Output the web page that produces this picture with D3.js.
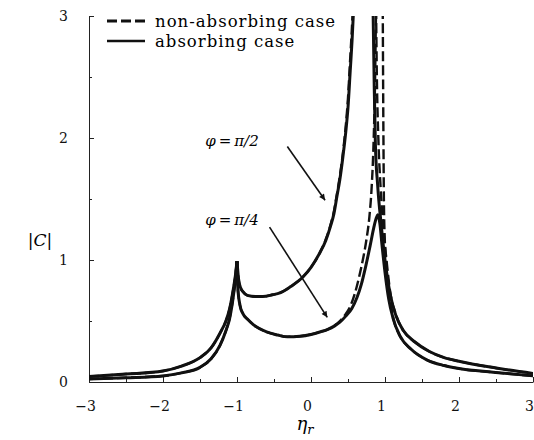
<!DOCTYPE html>
<html>
<head>
<meta charset="utf-8">
<script src="https://cdn.jsdelivr.net/npm/d3@7"></script>
<style>
  body { margin: 0; background: #fff; }
  svg { display: block; }
</style>
</head>
<body>
<svg id="chart" width="534" height="440"></svg>
<script>
// axis ticks
const etaTicks = [-3, -2, -1, 0, 1, 2, 3];
const etaMinor = [-2.5, -1.5, -0.5, 0.5, 1.5, 2.5];
const cTicks = [0, 1, 2, 3];
const cMinor = [0.5, 1.5, 2.5];

// |C|, [eta_r, |C|], split at the cusp (eta=-1) and the poles
const leftHalfPi = [[-3, 0.045], [-2.5, 0.065], [-2, 0.09], [-1.75, 0.13], [-1.5, 0.2], [-1.35, 0.28],
  [-1.23, 0.4], [-1.15, 0.5], [-1.1, 0.6], [-1.05, 0.76], [-1.02, 0.88], [-1, 0.99]];
const leftQuarterPi = [[-3, 0.025], [-2.5, 0.035], [-2, 0.05], [-1.75, 0.075], [-1.5, 0.12], [-1.35, 0.19],
  [-1.23, 0.3], [-1.15, 0.42], [-1.1, 0.52], [-1.05, 0.7], [-1.02, 0.85], [-1, 0.99]];

// phi = pi/2, absorbing
const halfPiAbs = [
  leftHalfPi,
  [[-1, 0.99], [-0.98, 0.85], [-0.95, 0.77], [-0.92, 0.74], [-0.86, 0.71], [-0.75, 0.7], [-0.65, 0.7],
   [-0.52, 0.715], [-0.42, 0.73], [-0.28, 0.78], [-0.11, 0.86], [0, 0.94], [0.12, 1.06], [0.2, 1.16],
   [0.26, 1.27], [0.31, 1.38], [0.35, 1.52], [0.39, 1.66], [0.43, 1.84], [0.47, 2.05], [0.5, 2.25],
   [0.53, 2.55], [0.555, 2.8], [0.575, 3.05], [0.6, 3.4]],
  [[0.825, 3.4], [0.84, 3.0], [0.855, 2.4], [0.87, 1.95], [0.9, 1.62], [0.95, 1.28], [1, 1.0],
   [1.07, 0.72], [1.15, 0.54], [1.25, 0.42], [1.4, 0.33], [1.6, 0.25], [1.8, 0.2], [2, 0.17],
   [2.5, 0.115], [3, 0.07]]
];
// phi = pi/2, non-absorbing
const halfPiNon = [
  leftHalfPi,
  [[-1, 0.99], [-0.98, 0.85], [-0.95, 0.77], [-0.92, 0.74], [-0.86, 0.71], [-0.75, 0.7], [-0.65, 0.7],
   [-0.52, 0.715], [-0.42, 0.73], [-0.28, 0.78], [-0.11, 0.86], [0, 0.94], [0.12, 1.06], [0.2, 1.17],
   [0.26, 1.28], [0.31, 1.4], [0.35, 1.54], [0.39, 1.69], [0.43, 1.87], [0.47, 2.1], [0.5, 2.33],
   [0.525, 2.6], [0.55, 2.87], [0.565, 3.05], [0.59, 3.4]],
  [[0.87, 3.4], [0.88, 3.0], [0.89, 2.5], [0.91, 2.0], [0.94, 1.6], [0.98, 1.25], [1.02, 1.0],
   [1.07, 0.74], [1.15, 0.55], [1.25, 0.42], [1.4, 0.33], [1.6, 0.25], [1.8, 0.2], [2, 0.17],
   [2.5, 0.115], [3, 0.07]]
];
// phi = pi/4, absorbing
const quarterPiAbs = [
  leftQuarterPi,
  [[-1, 0.99], [-0.99, 0.78], [-0.96, 0.63], [-0.92, 0.56], [-0.85, 0.51], [-0.78, 0.47], [-0.6, 0.41],
   [-0.45, 0.385], [-0.32, 0.37], [-0.15, 0.375], [0, 0.39], [0.12, 0.41], [0.22, 0.43], [0.32, 0.46],
   [0.39, 0.49], [0.47, 0.54], [0.55, 0.6], [0.62, 0.69], [0.68, 0.8], [0.74, 0.95], [0.8, 1.12],
   [0.85, 1.27], [0.88, 1.34], [0.905, 1.37], [0.93, 1.3], [0.96, 1.12], [1, 0.9], [1.05, 0.68],
   [1.11, 0.52], [1.2, 0.38], [1.35, 0.27], [1.57, 0.18], [1.8, 0.135], [2, 0.11], [2.46, 0.08], [3, 0.05]]
];
// phi = pi/4, non-absorbing
const quarterPiNon = [
  leftQuarterPi,
  [[-1, 0.99], [-0.99, 0.78], [-0.96, 0.63], [-0.92, 0.56], [-0.85, 0.51], [-0.78, 0.47], [-0.6, 0.41],
   [-0.45, 0.385], [-0.32, 0.37], [-0.15, 0.375], [0, 0.39], [0.12, 0.41], [0.22, 0.43], [0.32, 0.465],
   [0.39, 0.5], [0.46, 0.55], [0.53, 0.62], [0.59, 0.72], [0.65, 0.86], [0.7, 1.0], [0.75, 1.17],
   [0.79, 1.36], [0.82, 1.6], [0.845, 1.95], [0.865, 2.45], [0.878, 3.0], [0.89, 3.4]],
  [[0.965, 3.4], [0.97, 3.0], [0.975, 2.4], [0.98, 1.9], [0.985, 1.5], [0.995, 1.2], [1.02, 0.95],
   [1.06, 0.72], [1.11, 0.53], [1.2, 0.38], [1.35, 0.27], [1.57, 0.18], [1.8, 0.135], [2, 0.11],
   [2.46, 0.08], [3, 0.05]]
];

// annotations: label anchor and arrow [from, to], in data units
const annLabels = [
  { text: "\u03c6\u2009=\u2009\u03c0/2", at: [-1.43, 1.98], arrow: [[-0.32, 1.93], [0.19, 1.49]] },
  { text: "\u03c6\u2009=\u2009\u03c0/4", at: [-1.43, 1.34], arrow: [[-0.56, 1.27], [0.22, 0.53]] }
];

const svg = d3.select("#chart");
const margin = { top: 16, right: 1, bottom: 58, left: 89 };
const width = +svg.attr("width");
const height = +svg.attr("height");
const serif = "DejaVu Serif";

const x = d3.scaleLinear().domain([-3, 3]).range([margin.left, width - margin.right]);
const y = d3.scaleLinear().domain([0, 3]).range([height - margin.bottom, margin.top]);

svg.append("defs").append("clipPath").attr("id", "clip")
  .append("rect")
  .attr("x", x(-3)).attr("y", y(3))
  .attr("width", x(3) - x(-3)).attr("height", y(0) - y(3));

svg.append("defs").append("marker")
  .attr("id", "head")
  .attr("viewBox", "0 0 10 10")
  .attr("refX", 10).attr("refY", 5)
  .attr("markerWidth", 11).attr("markerHeight", 6)
  .attr("markerUnits", "userSpaceOnUse")
  .attr("orient", "auto")
  .append("path").attr("d", "M0,0 L10,5 L0,10 Z").attr("fill", "#111");

const fmt = d3.format("~g");

// axes, ticks pointing inward
const gx = svg.append("g").attr("transform", `translate(0,${y(0)})`);
gx.call(d3.axisBottom(x).tickValues(etaTicks).tickFormat(fmt).tickSize(-5).tickSizeOuter(0).tickPadding(19));
svg.append("g").attr("transform", `translate(0,${y(0)})`)
  .call(d3.axisBottom(x).tickValues(etaMinor).tickSize(-3).tickFormat(""))
  .call(g => g.select(".domain").remove());

const gy = svg.append("g").attr("transform", `translate(${x(-3)},0)`);
gy.call(d3.axisLeft(y).tickValues(cTicks).tickFormat(fmt).tickSize(-5).tickSizeOuter(0).tickPadding(21));
svg.append("g").attr("transform", `translate(${x(-3)},0)`)
  .call(d3.axisLeft(y).tickValues(cMinor).tickSize(-3).tickFormat(""))
  .call(g => g.select(".domain").remove());

gx.selectAll(".tick text").attr("font-family", serif).attr("font-size", 14).attr("dx", -4).attr("fill", "#111");
gy.selectAll(".tick text").attr("font-family", serif).attr("font-size", 14).attr("fill", "#111");
svg.selectAll(".domain, .tick line").attr("stroke", "#222");

// axis titles
const yTitle = svg.append("text")
  .attr("x", 40).attr("y", 246)
  .attr("text-anchor", "middle")
  .attr("font-family", serif)
  .attr("font-size", 17);
yTitle.append("tspan").text("|");
yTitle.append("tspan").attr("font-style", "italic").text("C");
yTitle.append("tspan").text("|");

const xTitle = svg.append("text")
  .attr("x", x(0) - 6).attr("y", 430)
  .attr("text-anchor", "middle")
  .attr("font-family", serif)
  .attr("font-size", 18).attr("font-style", "italic");
xTitle.append("tspan").text("\u03b7");
xTitle.append("tspan").attr("font-size", 13).attr("dy", 4).text("r");

// curves
const line = d3.line()
  .x(d => x(d[0]))
  .y(d => y(d[1]))
  .curve(d3.curveMonotoneX);

const plot = svg.append("g").attr("clip-path", "url(#clip)");

function drawCurve(segments, dashed) {
  plot.append("g").selectAll("path")
    .data(segments)
    .enter().append("path")
    .attr("d", line)
    .attr("fill", "none")
    .attr("stroke", "#111")
    .attr("stroke-width", dashed ? 2.4 : 3)
    .attr("stroke-dasharray", dashed ? "10,4" : null);
}

drawCurve(halfPiAbs, false);
drawCurve(quarterPiAbs, false);
drawCurve(halfPiNon, true);
drawCurve(quarterPiNon, true);

// annotations
annLabels.forEach(a => {
  svg.append("text")
    .attr("x", x(a.at[0])).attr("y", y(a.at[1]) + 6)
    .attr("font-family", serif)
    .attr("font-size", 15)
    .attr("font-style", "italic")
    .text(a.text);
  svg.append("line")
    .attr("x1", x(a.arrow[0][0])).attr("y1", y(a.arrow[0][1]))
    .attr("x2", x(a.arrow[1][0])).attr("y2", y(a.arrow[1][1]))
    .attr("stroke", "#111").attr("stroke-width", 1.6)
    .attr("marker-end", "url(#head)");
});

// legend
const legend = svg.append("g").attr("transform", "translate(107,21)");
const legendItems = [
  { label: "non-absorbing case", dashed: true },
  { label: "absorbing case", dashed: false }
];
legendItems.forEach((d, i) => {
  const row = legend.append("g").attr("transform", `translate(0,${i * 20})`);
  row.append("line")
    .attr("x1", 0).attr("x2", 38)
    .attr("stroke", "#111")
    .attr("stroke-width", d.dashed ? 3 : 2.6)
    .attr("stroke-dasharray", d.dashed ? "10,4" : null);
  row.append("text")
    .attr("x", 48).attr("y", 6)
    .attr("font-family", serif)
    .attr("font-size", 16.5)
    .attr("letter-spacing", 1)
    .text(d.label);
});
</script>
</body>
</html>
